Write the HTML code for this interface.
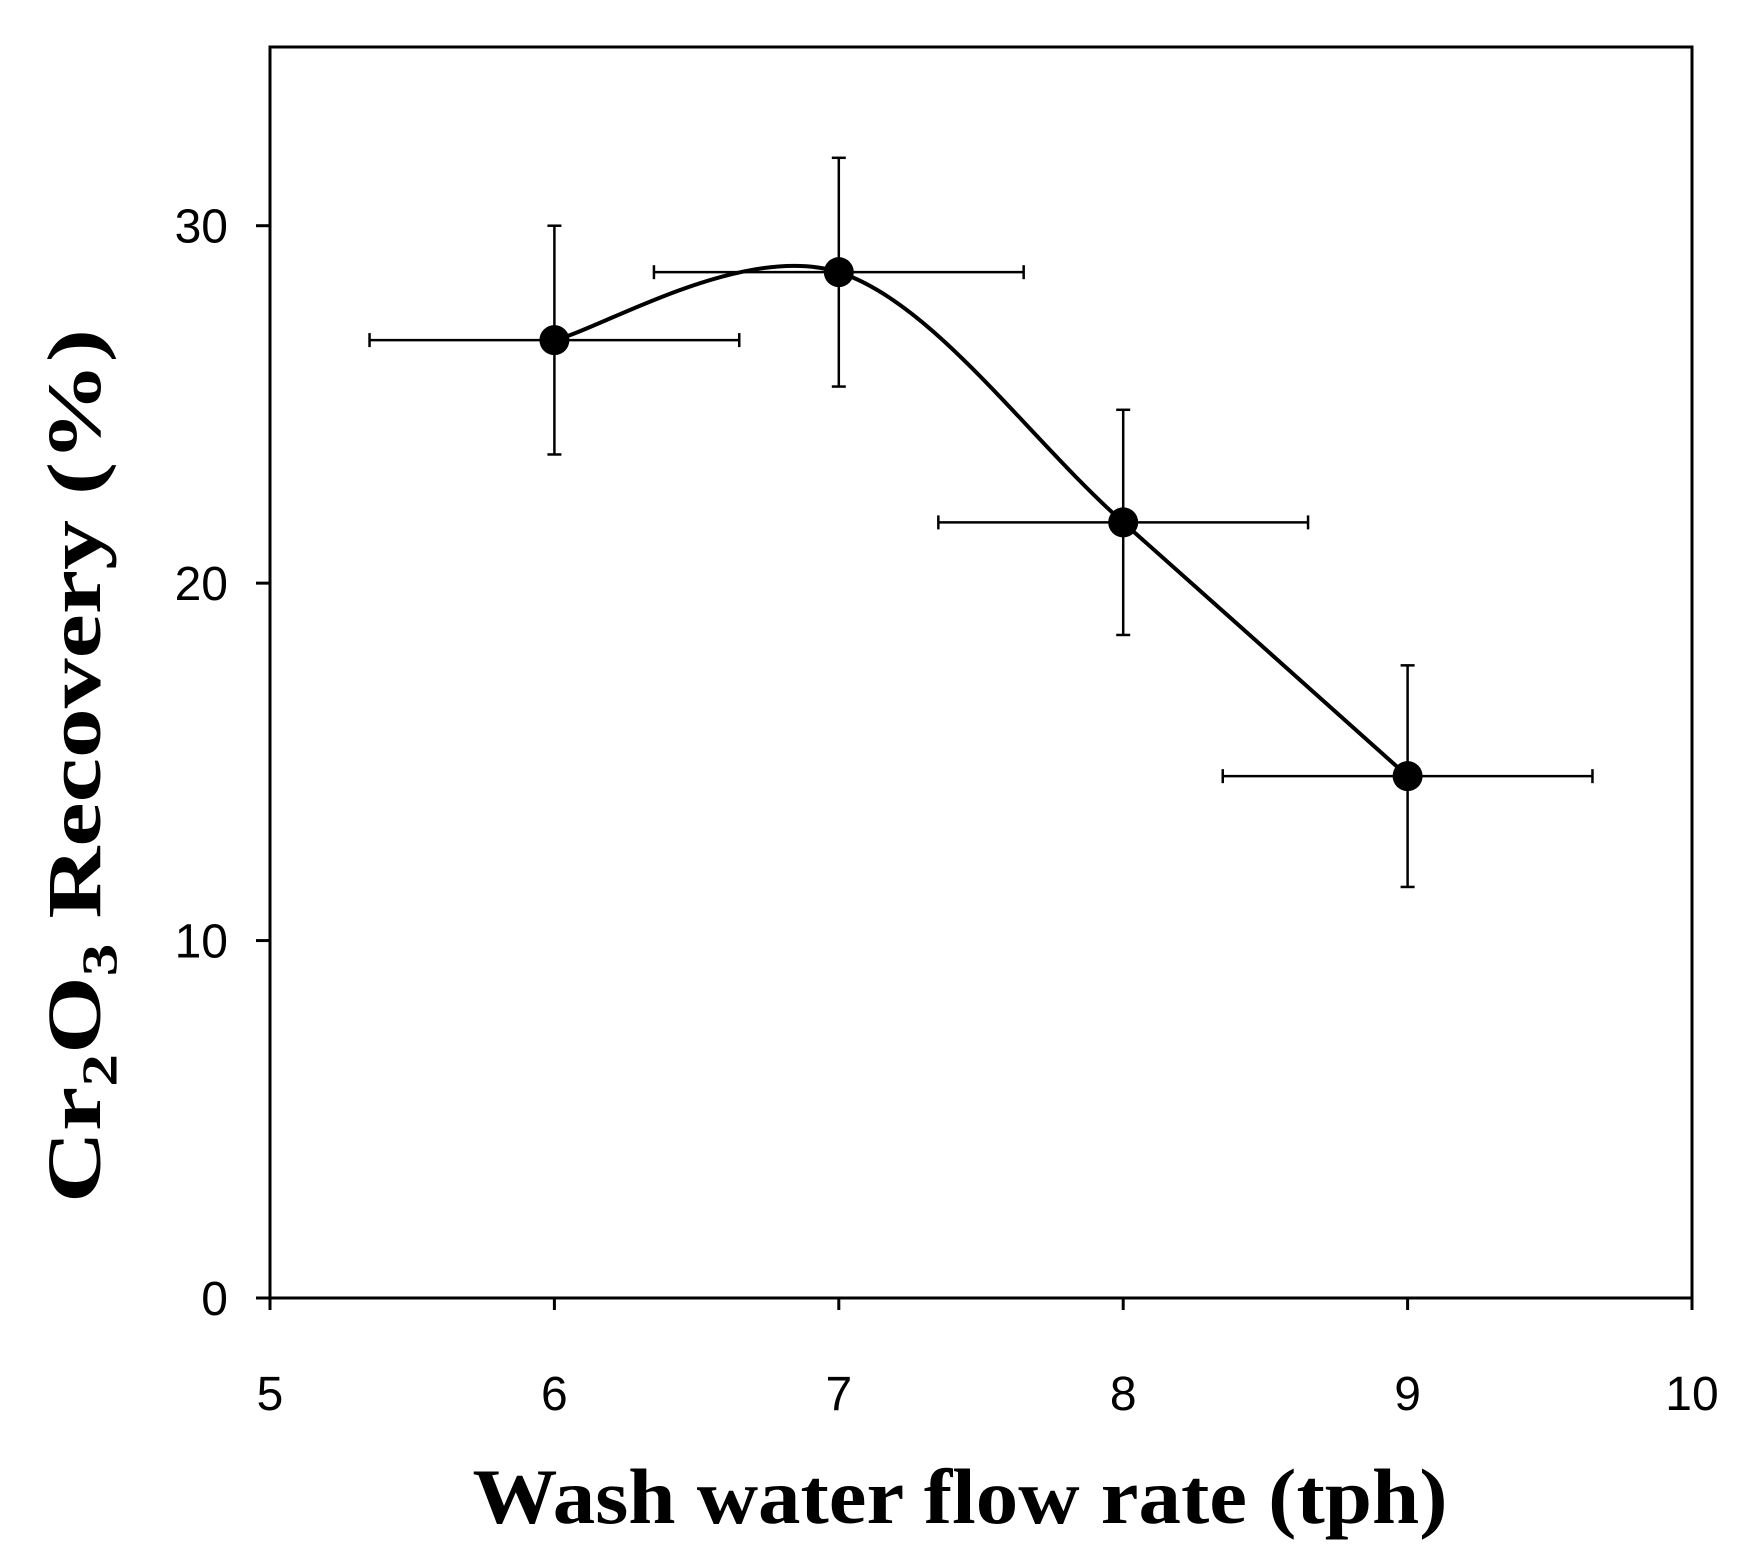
<!DOCTYPE html>
<html><head><meta charset="utf-8"><style>
html,body{margin:0;padding:0;background:#fff;}
svg{display:block;}
</style></head><body>
<svg id="chart" width="1746" height="1564" viewBox="0 0 1746 1564" xmlns="http://www.w3.org/2000/svg">
<rect width="1746" height="1564" fill="#fff"/>
<g id="axes"></g>
<g id="series"></g>
<text x="960" y="1523" text-anchor="middle" font-family="Liberation Serif, serif" font-weight="bold" font-size="78" textLength="975" lengthAdjust="spacingAndGlyphs">Wash water flow rate (tph)</text>
<text transform="translate(100,766) rotate(-90)" text-anchor="middle" font-family="Liberation Serif, serif" font-weight="bold" font-size="76" textLength="874" lengthAdjust="spacingAndGlyphs">Cr<tspan font-size="50" dy="16">2</tspan><tspan dy="-16">O</tspan><tspan font-size="50" dy="16">3</tspan><tspan dy="-16"> Recovery  (%)</tspan></text>
</svg>
<script>
const xs = [6, 7, 8, 9];
const ys = [26.8, 28.7, 21.7, 14.6];
const yErr = [3.2, 3.2, 3.15, 3.1];
const xErr = [0.65, 0.65, 0.65, 0.65];
const xTicks = [5, 6, 7, 8, 9, 10];
const yTicks = [0, 10, 20, 30];

const L=270,R=1692,T=47,B=1298, XMIN=5,XMAX=10,YMIN=0,YMAX=35;
const sx=v=>L+(v-XMIN)/(XMAX-XMIN)*(R-L);
const sy=v=>B-(v-YMIN)/(YMAX-YMIN)*(B-T);
const NS='http://www.w3.org/2000/svg';
function mk(tag,attrs,parent){const e=document.createElementNS(NS,tag);for(const k in attrs)e.setAttribute(k,attrs[k]);parent.appendChild(e);return e;}
const ax=document.getElementById('axes'), se=document.getElementById('series');

let frame=mk('rect',{x:L,y:T,width:R-L,height:B-T,fill:'none',stroke:'#000','stroke-width':3},ax);



xTicks.forEach(t=>{
  let tk=mk('line',{x1:sx(t),x2:sx(t),y1:B,y2:B+12,stroke:'#000','stroke-width':3},ax);
  
  
  let lb=mk('text',{x:sx(t),y:B+112,'text-anchor':'middle','font-family':'Liberation Sans, sans-serif','font-size':48},ax);
  lb.textContent=t;
  
  
});
yTicks.forEach(t=>{
  let tk=mk('line',{x1:L-14,x2:L,y1:sy(t),y2:sy(t),stroke:'#000','stroke-width':3},ax);
  
  
  let lb=mk('text',{x:L-42,y:sy(t)+17,'text-anchor':'end','font-family':'Liberation Sans, sans-serif','font-size':48},ax);
  lb.textContent=t;
  
  
});

const P=xs.map((x,i)=>[sx(x),sy(ys[i])]);
let d='M'+P[0][0]+','+P[0][1];
for(let i=0;i<P.length-1;i++){
  const p0=P[i-1]||P[i],p1=P[i],p2=P[i+1],p3=P[i+2]||P[i+1];
  const k=1/6;
  const c1=[p1[0]+(p2[0]-p0[0])*k,p1[1]+(p2[1]-p0[1])*k];
  const c2=[p2[0]-(p3[0]-p1[0])*k,p2[1]-(p3[1]-p1[1])*k];
  d+=' C'+c1+' '+c2+' '+p2;
}
let line=mk('path',{d:d,fill:'none',stroke:'#000','stroke-width':4},se);



xs.forEach((x,i)=>{
  const cx=sx(x),cy=sy(ys[i]);
  const g=mk('g',{},se);
  
  
  const y1=sy(ys[i]+yErr[i]),y2=sy(ys[i]-yErr[i]);
  const x1=sx(x-xErr[i]),x2=sx(x+xErr[i]);
  const s={stroke:'#000','stroke-width':2.5};
  mk('line',Object.assign({x1:cx,x2:cx,y1:y1,y2:y2},s),g);
  mk('line',Object.assign({x1:cx-7,x2:cx+7,y1:y1,y2:y1},s),g);
  mk('line',Object.assign({x1:cx-7,x2:cx+7,y1:y2,y2:y2},s),g);
  mk('line',Object.assign({x1:x1,x2:x2,y1:cy,y2:cy},s),g);
  mk('line',Object.assign({x1:x1,x2:x1,y1:cy-7,y2:cy+7},s),g);
  mk('line',Object.assign({x1:x2,x2:x2,y1:cy-7,y2:cy+7},s),g);
  const c=mk('circle',{cx:cx,cy:cy,r:15,fill:'#000'},se);
  
  
});
</script>
</body></html>
